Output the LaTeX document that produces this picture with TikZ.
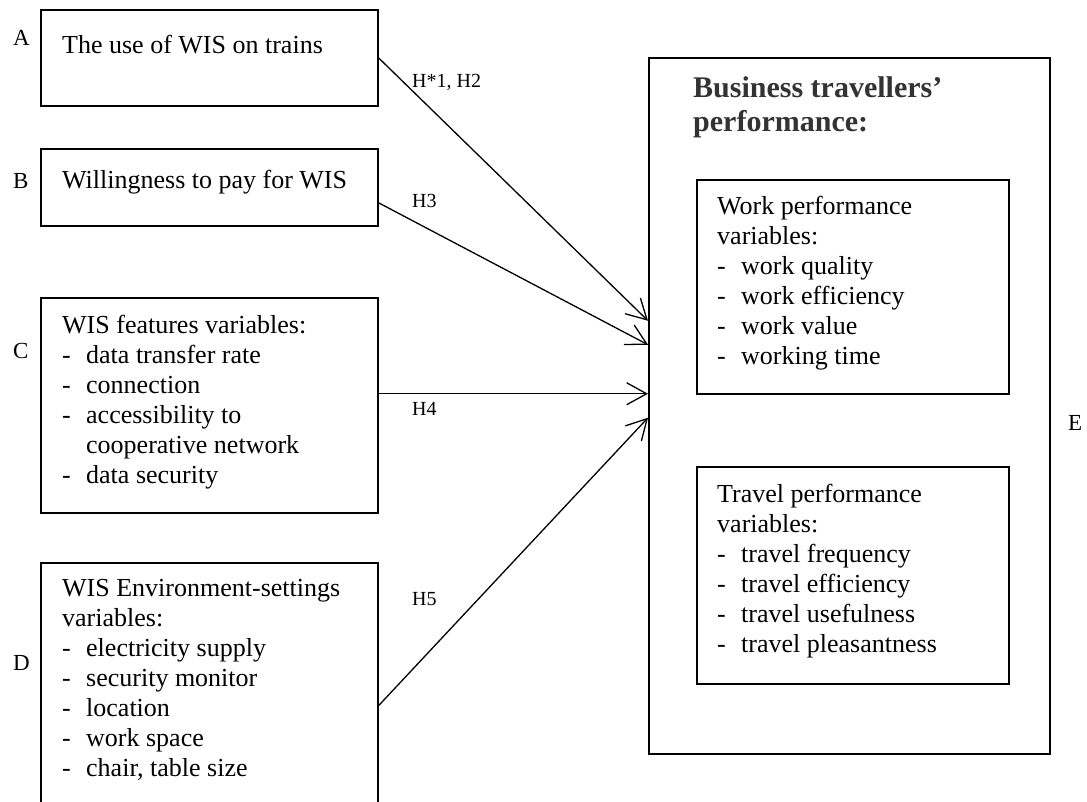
\documentclass[tikz,border=0pt]{standalone}
\usepackage{fontspec}
\setmainfont{Liberation Serif}
\usetikzlibrary{arrows.meta}

% dash in front of a listed variable
\newcommand{\itm}{\makebox[24pt][l]{-}}

\begin{document}
\begin{tikzpicture}[x=1pt,y=-1pt,>={Straight Barb[length=20pt,width=22pt]},
	box/.style={draw,line width=1.5pt,inner sep=0pt,anchor=north west},
	txt/.style={align=left,inner sep=0pt,anchor=north west,font=\fontsize{26}{30}\selectfont},
	tag/.style={inner sep=0pt,anchor=base west,font=\fontsize{23}{27}\selectfont},
	hyp/.style={inner sep=0pt,anchor=base west,font=\fontsize{20}{24}\selectfont},
	link/.style={->,line width=1.3pt}]

	\useasboundingbox (0,0) rectangle (1087,801);

	% factors on the left
	\node[box,minimum width=337pt,minimum height=96pt] (boxA) at (40,9) {};
	\node[txt] (txtA) at (62,35) {The use of WIS on trains};
	\node[tag] (tagA) at (13,45) {A};

	\node[box,minimum width=337pt,minimum height=77pt] (boxB) at (40,148) {};
	\node[txt] (txtB) at (62,170) {Willingness to pay for WIS};
	\node[tag] (tagB) at (13,188) {B};

	\node[box,minimum width=337pt,minimum height=215pt] (boxC) at (40,297) {};
	\node[txt] (txtC) at (62,315) {WIS features variables:\\
		\itm data transfer rate\\
		\itm connection\\
		\itm accessibility to\\
		\hspace*{24pt}cooperative network\\
		\itm data security};
	\node[tag] (tagC) at (13,358) {C};

	\node[box,minimum width=337pt,minimum height=286pt] (boxD) at (40,562) {};
	\node[txt] (txtD) at (62,579) {WIS Environment-settings\\
		variables:\\
		\itm electricity supply\\
		\itm security monitor\\
		\itm location\\
		\itm work space\\
		\itm chair, table size};
	\node[tag] (tagD) at (13,670) {D};

	% performance block on the right
	\node[box,minimum width=401pt,minimum height=696pt] (perf) at (648,57) {};
	\node[txt,text=black!80,font=\fontsize{30}{34}\selectfont\bfseries] (title) at (693,76) {Business travellers'\\performance:};

	\node[box,minimum width=312pt,minimum height=214pt] (work) at (696,179) {};
	\node[txt] (txtWork) at (717,196) {Work performance\\
		variables:\\
		\itm work quality\\
		\itm work efficiency\\
		\itm work value\\
		\itm working time};

	\node[box,minimum width=312pt,minimum height=217pt] (travel) at (696,466) {};
	\node[txt] (txtTravel) at (717,484) {Travel performance\\
		variables:\\
		\itm travel frequency\\
		\itm travel efficiency\\
		\itm travel usefulness\\
		\itm travel pleasantness};
	\node[tag] (tagE) at (1068,430) {E};

	% hypotheses
	\draw[link] (boxA.east) -- ([yshift=85pt]perf.west);
	\draw[link] ([yshift=-15.5pt]boxB.east) -- ([yshift=61pt]perf.west);
	\draw[link] ([yshift=11.5pt]boxC.east) -- ([yshift=12pt]perf.west);
	\draw[link] (boxD.east) -- ([yshift=-12pt]perf.west);

	\node[hyp] (h12) at (412,87) {H*1, H2};
	\node[hyp] (h3) at (412,207) {H3};
	\node[hyp] (h4) at (412,415) {H4};
	\node[hyp] (h5) at (412,605) {H5};

\end{tikzpicture}
\end{document}
